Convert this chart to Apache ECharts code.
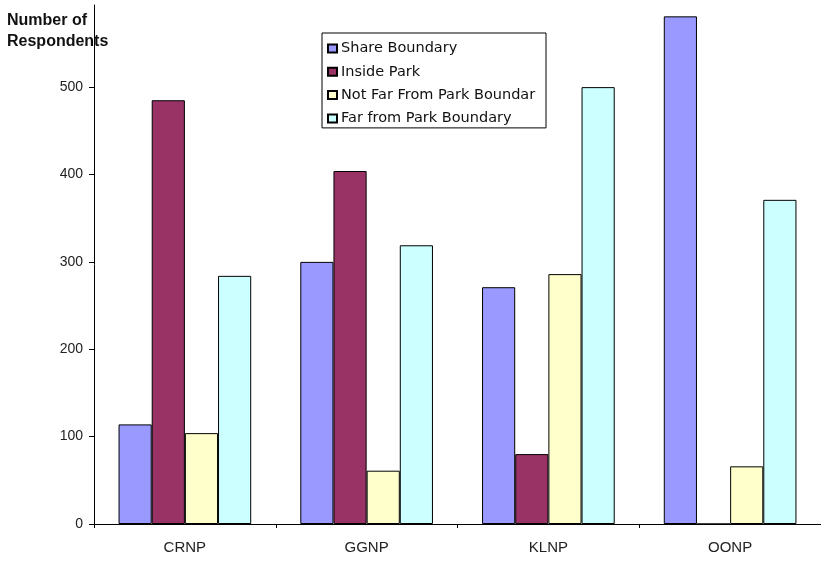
<!DOCTYPE html>
<html><head><meta charset="utf-8">
<script src="https://cdn.jsdelivr.net/npm/echarts@6/dist/echarts.min.js"></script>
<style>html,body{margin:0;padding:0;background:#fff}#c{width:821px;height:561px}</style>
</head><body><div id="c"></div>
<script>
const categories = ['CRNP', 'GGNP', 'KLNP', 'OONP'];
const shareBoundary = [114, 300, 271, 581];
const insidePark = [485, 404, 80, 0];
const notFarFromBoundary = [104, 61, 286, 66];
const farFromBoundary = [284, 319, 500, 371];
const seriesNames = ['Share Boundary', 'Inside Park', 'Not Far From Park Boundary', 'Far from Park Boundary'];
const colors = ['#9999FF', '#993366', '#FFFFCC', '#CCFFFF'];
const FONT = '"Liberation Sans", Arial, sans-serif';
const LFONT = '"DejaVu Sans", Verdana, sans-serif';

const chart = echarts.init(document.getElementById('c'));
const dataSets = [shareBoundary, insidePark, notFarFromBoundary, farFromBoundary];
chart.setOption({
  animation: false,
  textStyle: { fontFamily: FONT },
  title: {
    text: 'Number of\nRespondents', left: 2, top: 5,
    textStyle: { fontFamily: FONT, fontSize: 16, fontWeight: 'bold', color: '#111', lineHeight: 21 }
  },
  legend: {
    orient: 'vertical', left: 322, top: 33,
    padding: [7, 2, 1, 5], itemGap: 6.3, itemWidth: 9, itemHeight: 8, icon: 'rect',
    borderColor: '#000', borderWidth: 1, backgroundColor: '#fff',
    textStyle: { fontFamily: LFONT, fontSize: 14.5, lineHeight: 17, color: '#111', padding: [0, 0, 0, -1], width: 203, overflow: 'truncate', ellipsis: '' },
    data: seriesNames
  },
  grid: { left: 94, top: 5, width: 734, bottom: 37, containLabel: false },
  xAxis: {
    type: 'category', data: categories,
    axisLine: { lineStyle: { color: '#000', width: 1 } },
    axisTick: { show: true, length: 4, lineStyle: { color: '#000' } },
    axisLabel: { color: '#222', fontSize: 15, margin: 16, fontFamily: FONT }
  },
  yAxis: {
    type: 'value', min: 0, max: 594, interval: 100,
    splitLine: { show: false },
    axisLine: { show: true, lineStyle: { color: '#000', width: 1 } },
    axisTick: { show: true, length: 5, lineStyle: { color: '#000' } },
    axisLabel: { color: '#222', fontSize: 14, margin: 11, fontFamily: FONT, showMaxLabel: false }
  },
  series: dataSets.map((d, i) => ({
    name: seriesNames[i], type: 'bar', data: d,
    barGap: '0%', barCategoryGap: '27%',
    itemStyle: { color: colors[i], borderColor: '#000', borderWidth: 1 }
  }))
});
</script></body></html>
